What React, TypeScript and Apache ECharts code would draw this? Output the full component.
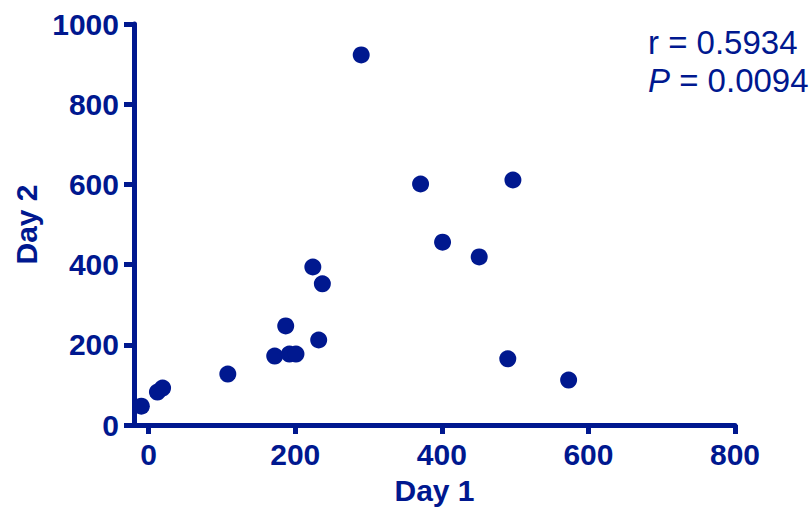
import React, { useEffect, useRef } from "react";
import * as echarts from "echarts";

const COLOR = "#00188f";
const day1 = [-10, 12, 19, 108, 172, 192, 201, 187, 224, 237, 232, 290, 371, 497, 401, 451, 490, 573];
const day2 = [47, 82, 92, 127, 172, 177, 177, 247, 394, 352, 212, 923, 601, 611, 456, 419, 165, 112];
const xTicks = [0, 200, 400, 600, 800];
const rText = "r = 0.5934";
const pValue = " = 0.0094";

export default function App() {
  const ref = useRef<HTMLDivElement>(null);
  useEffect(() => {
    if (!ref.current) return;
    const chart = echarts.init(ref.current, null, { renderer: "svg" });
    const font = "'Liberation Sans', Arial, sans-serif";
    chart.setOption({
      animation: false,
      backgroundColor: "#ffffff",
      grid: { left: 134, right: 76, top: 24, bottom: 86 },
      xAxis: {
        type: "value",
        min: -20,
        max: 800,
        name: "Day 1",
        nameLocation: "middle",
        nameGap: 50,
        nameTextStyle: { color: COLOR, fontSize: 30, fontWeight: "bold", fontFamily: font },
        axisLine: { show: true, onZero: false, lineStyle: { color: COLOR, width: 5 } },
        axisTick: { show: true, length: 9, customValues: xTicks, lineStyle: { color: COLOR, width: 5 } },
        axisLabel: {
          customValues: xTicks,
          margin: 14,
          color: COLOR,
          fontSize: 30,
          fontWeight: "bold",
          fontFamily: font,
          formatter: (v: number) => String(v),
        },
        splitLine: { show: false },
      },
      yAxis: {
        type: "value",
        min: 0,
        max: 1000,
        interval: 200,
        name: "Day 2",
        nameLocation: "middle",
        nameGap: 92,
        nameTextStyle: { color: COLOR, fontSize: 30, fontWeight: "bold", fontFamily: font },
        axisLine: { show: true, onZero: false, lineStyle: { color: COLOR, width: 5 } },
        axisTick: { show: true, length: 10, lineStyle: { color: COLOR, width: 5 } },
        axisLabel: {
          margin: 15,
          color: COLOR,
          fontSize: 30,
          fontWeight: "bold",
          fontFamily: font,
          formatter: (v: number) => String(v),
        },
        splitLine: { show: false },
      },
      series: [
        {
          type: "scatter",
          symbol: "circle",
          symbolSize: 17,
          itemStyle: { color: COLOR, opacity: 1 },
          data: day1.map((x, i) => [x, day2[i]]),
        },
      ],
      graphic: [
        {
          type: "text",
          left: 648,
          top: 26,
          style: { text: rText, fill: COLOR, font: `33px ${font}` },
        },
        {
          type: "text",
          left: 648,
          top: 64,
          style: {
            text: `{i|P}{n|${pValue}}`,
            rich: {
              i: { fill: COLOR, fontSize: 33, fontStyle: "italic", fontFamily: font },
              n: { fill: COLOR, fontSize: 33, fontFamily: font },
            },
          },
        },
      ],
    });
    return () => chart.dispose();
  }, []);
  return <div ref={ref} style={{ position: "absolute", left: 0, top: 0, width: 811, height: 511 }} />;
}
